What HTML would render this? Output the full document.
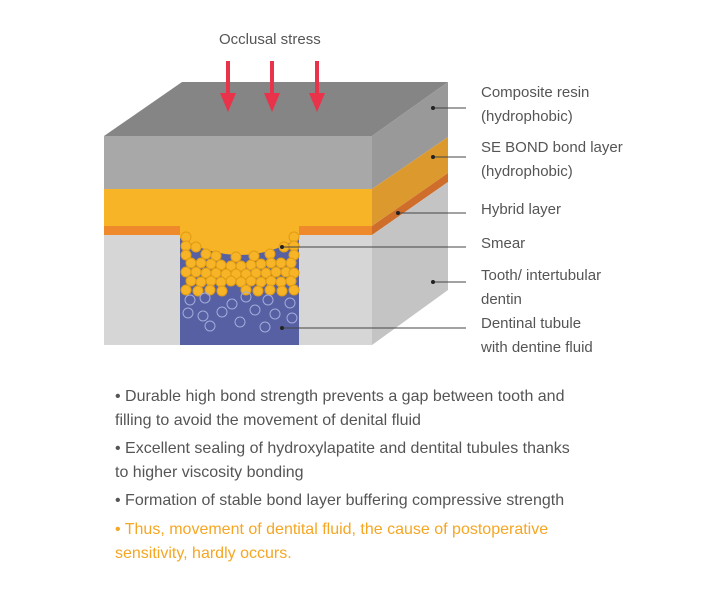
<!DOCTYPE html>
<html><head><style>
body{margin:0;width:710px;height:600px;background:#fff;position:relative;font-family:"Liberation Sans",sans-serif;overflow:hidden}
.t{position:absolute;white-space:nowrap;font-size:15px;color:#555;line-height:18px}
.b{font-size:16px}
.o{color:#f5a623}
</style></head><body>
<svg width="710" height="600" style="position:absolute;left:0;top:0">
<polygon points="104,136 182,82 448,82 372,136" fill="#858585"/>
<polygon points="372,136 448,82 448,137 372,189" fill="#999"/>
<polygon points="372,189 448,137 448,173 372,226" fill="#dc9a2e"/>
<polygon points="372,226 448,173 448,182 372,235" fill="#cf6d2a"/>
<polygon points="372,235 448,182 448,290 372,345" fill="#c4c4c4"/>
<rect x="104" y="136" width="268" height="53" fill="#a8a8a8"/>
<rect x="104" y="189" width="268" height="38" fill="#f6b426"/>
<rect x="104" y="226" width="268" height="9" fill="#ee8a2c"/>
<rect x="104" y="235" width="268" height="110" fill="#d6d6d6"/>
<rect x="180" y="226" width="119" height="119" fill="#5660a2"/>
<path d="M180,226 L180,238 Q240,272 299,238 L299,226 Z" fill="#f6b426"/>
<g fill="#f6b426" stroke="#e09c14" stroke-width="1">
<circle cx="186" cy="237" r="5"/><circle cx="294" cy="237" r="5"/>
<circle cx="186" cy="246" r="5"/><circle cx="196" cy="247" r="5"/><circle cx="284" cy="247" r="5"/><circle cx="294" cy="246" r="5"/>
<circle cx="206" cy="254" r="5"/><circle cx="216" cy="256" r="5"/><circle cx="236" cy="257" r="5"/><circle cx="254" cy="256" r="5"/><circle cx="270" cy="254" r="5"/><circle cx="186" cy="255" r="5"/><circle cx="294" cy="255" r="5"/>
<circle cx="191" cy="263" r="5"/><circle cx="201" cy="263" r="5"/><circle cx="211" cy="264" r="5"/><circle cx="221" cy="265" r="5"/><circle cx="231" cy="266" r="5"/><circle cx="241" cy="266" r="5"/><circle cx="251" cy="265" r="5"/><circle cx="261" cy="264" r="5"/><circle cx="271" cy="263" r="5"/><circle cx="281" cy="263" r="5"/><circle cx="291" cy="263" r="5"/>
<circle cx="186" cy="272" r="5"/><circle cx="196" cy="272" r="5"/><circle cx="206" cy="273" r="5"/><circle cx="216" cy="273" r="5"/><circle cx="226" cy="274" r="5"/><circle cx="236" cy="274" r="5"/><circle cx="246" cy="274" r="5"/><circle cx="256" cy="273" r="5"/><circle cx="266" cy="273" r="5"/><circle cx="276" cy="272" r="5"/><circle cx="286" cy="272" r="5"/><circle cx="294" cy="273" r="5"/>
<circle cx="191" cy="281" r="5"/><circle cx="201" cy="282" r="5"/><circle cx="211" cy="281" r="5"/><circle cx="221" cy="282" r="5"/><circle cx="231" cy="281" r="5"/><circle cx="241" cy="282" r="5"/><circle cx="251" cy="281" r="5"/><circle cx="261" cy="282" r="5"/><circle cx="271" cy="281" r="5"/><circle cx="281" cy="282" r="5"/><circle cx="291" cy="281" r="5"/>
<circle cx="186" cy="290" r="5"/><circle cx="198" cy="291" r="5"/><circle cx="210" cy="290" r="5"/><circle cx="222" cy="291" r="5"/><circle cx="246" cy="290" r="5"/><circle cx="258" cy="291" r="5"/><circle cx="270" cy="290" r="5"/><circle cx="282" cy="291" r="5"/><circle cx="294" cy="290" r="5"/>
</g>
<g fill="none" stroke="#a3abdc" stroke-width="1">
<circle cx="190" cy="300" r="5"/><circle cx="205" cy="298" r="5"/><circle cx="232" cy="304" r="5"/><circle cx="246" cy="297" r="5"/><circle cx="268" cy="300" r="5"/><circle cx="290" cy="303" r="5"/>
<circle cx="188" cy="313" r="5"/><circle cx="203" cy="316" r="5"/><circle cx="222" cy="312" r="5"/><circle cx="255" cy="310" r="5"/><circle cx="275" cy="314" r="5"/><circle cx="292" cy="318" r="5"/>
<circle cx="210" cy="326" r="5"/><circle cx="240" cy="322" r="5"/><circle cx="265" cy="327" r="5"/>
</g>
<g fill="#e8334a" stroke="#e8334a">
<line x1="228" y1="61" x2="228" y2="98" stroke-width="4"/><polygon points="220,93 236,93 228,112" stroke="none"/>
<line x1="272" y1="61" x2="272" y2="98" stroke-width="4"/><polygon points="264,93 280,93 272,112" stroke="none"/>
<line x1="317" y1="61" x2="317" y2="98" stroke-width="4"/><polygon points="309,93 325,93 317,112" stroke="none"/>
</g>
<g stroke="#444" stroke-width="1">
<line x1="433" y1="108" x2="466" y2="108"/><line x1="433" y1="157" x2="466" y2="157"/>
<line x1="398" y1="213" x2="466" y2="213"/><line x1="282" y1="247" x2="466" y2="247"/>
<line x1="433" y1="282" x2="466" y2="282"/><line x1="282" y1="328" x2="466" y2="328"/>
</g>
<g fill="#222"><circle cx="433" cy="108" r="2"/><circle cx="433" cy="157" r="2"/><circle cx="398" cy="213" r="2"/><circle cx="282" cy="247" r="2"/><circle cx="433" cy="282" r="2"/><circle cx="282" cy="328" r="2"/></g>
</svg>
<div class="t" style="left:219px;top:31px">Occlusal stress</div>
<div class="t" style="left:481px;top:84px">Composite resin</div>
<div class="t" style="left:481px;top:108px">(hydrophobic)</div>
<div class="t" style="left:481px;top:139px">SE BOND bond layer</div>
<div class="t" style="left:481px;top:163px">(hydrophobic)</div>
<div class="t" style="left:481px;top:201px">Hybrid layer</div>
<div class="t" style="left:481px;top:235px">Smear</div>
<div class="t" style="left:481px;top:267px">Tooth/ intertubular</div>
<div class="t" style="left:481px;top:291px">dentin</div>
<div class="t" style="left:481px;top:315px">Dentinal tubule</div>
<div class="t" style="left:481px;top:339px">with dentine fluid</div>
<div class="t b" style="left:115px;top:388px">• Durable high bond strength prevents a gap between tooth and</div>
<div class="t b" style="left:115px;top:412px">filling to avoid the movement of denital fluid</div>
<div class="t b" style="left:115px;top:440px">• Excellent sealing of hydroxylapatite and dentital tubules thanks</div>
<div class="t b" style="left:115px;top:464px">to higher viscosity bonding</div>
<div class="t b" style="left:115px;top:492px">• Formation of stable bond layer buffering compressive strength</div>
<div class="t b o" style="left:115px;top:521px">• Thus, movement of dentital fluid, the cause of postoperative</div>
<div class="t b o" style="left:115px;top:545px">sensitivity, hardly occurs.</div>
</body></html>
